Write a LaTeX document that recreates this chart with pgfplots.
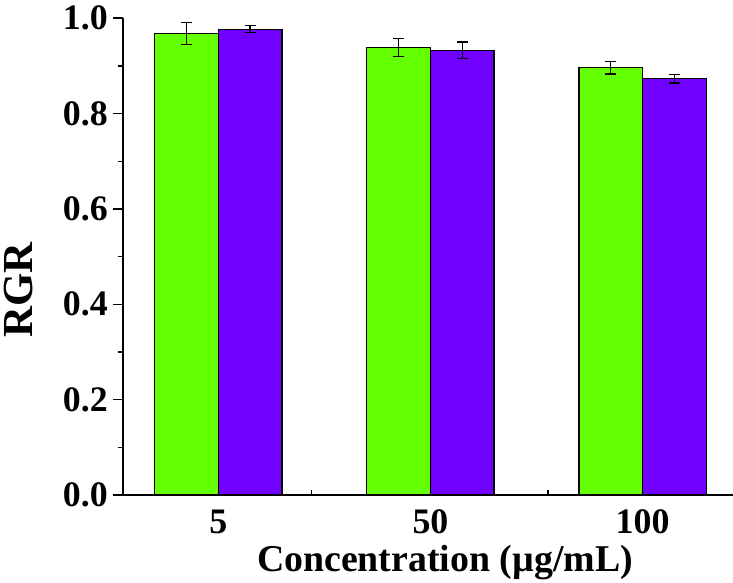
\documentclass[border=0pt]{standalone}
\usepackage{pgfplots}
\pgfplotsset{compat=1.18}
\usepackage{fontspec}
\setmainfont{Liberation Serif}
\definecolor{barg}{RGB}{100,255,0}
\definecolor{barp}{RGB}{112,0,255}
\begin{document}
\begin{tikzpicture}
\begin{axis}[
  name=ax,
  scale only axis,
  width=610bp, height=476.7bp,
  ybar=0pt, bar width=0.3,
  xmin=0.551, xmax=3.426, ymin=0, ymax=1,
  enlargelimits=false,
  axis x line=bottom, axis y line=left,
  axis line style={-, line width=1.8bp, black},
  xtick={1,2,3}, xticklabels={5,50,100},
  minor xtick={1.44,2.555},
  major x tick style={draw=none},
  xtick align=inside,
  ytick={0,0.2,0.4,0.6,0.8,1.0},
  minor ytick={0.1,0.3,0.5,0.7,0.9},
  ytick align=outside,
  major tick length=10bp, minor tick length=5bp,
  every tick/.style={black, line width=1.6bp},
  /pgf/number format/assume math mode=true,
  yticklabel style={/pgf/number format/.cd, fixed, fixed zerofill, precision=1, /tikz/.cd,
    font=\fontsize{36}{40}\selectfont\bfseries, anchor=east, inner sep=0pt, xshift=-5bp},
  xticklabel style={font=\fontsize{36}{40}\selectfont\bfseries, anchor=base, inner sep=0pt, yshift=-38bp},
  xlabel={Concentration (\textmu g/mL)},
  xlabel style={font=\fontsize{38}{42}\selectfont\bfseries, at={(axis description cs:0.528,-0.161)}, anchor=base, inner sep=0pt},
  ylabel={RGR},
  ylabel style={font=\fontsize{43}{48}\selectfont\bfseries, at={(axis description cs:-0.172,0.43)}, anchor=center, inner sep=0pt},
  clip=false,
]
\addplot[fill=barg, draw=black, line width=1.2bp,
  error bars/.cd, y dir=both, y explicit,
  error bar style={black, line width=1.3bp},
  error mark options={rotate=90, mark size=5.5bp, line width=1.3bp, black}]
  coordinates {(1,0.968) +- (0,0.0225) (2,0.939) +- (0,0.019) (3,0.896) +- (0,0.013)};
\addplot[fill=barp, draw=black, line width=1.2bp,
  error bars/.cd, y dir=both, y explicit,
  error bar style={black, line width=1.3bp},
  error mark options={rotate=90, mark size=5.5bp, line width=1.3bp, black}]
  coordinates {(1,0.977) +- (0,0.0075) (2,0.933) +- (0,0.017) (3,0.873) +- (0,0.009)};
\end{axis}
\pgfresetboundingbox
\path[use as bounding box] ([xshift=-123bp,yshift=-88bp]ax.south west) rectangle ([yshift=18.3bp]ax.north east);
\end{tikzpicture}
\end{document}
